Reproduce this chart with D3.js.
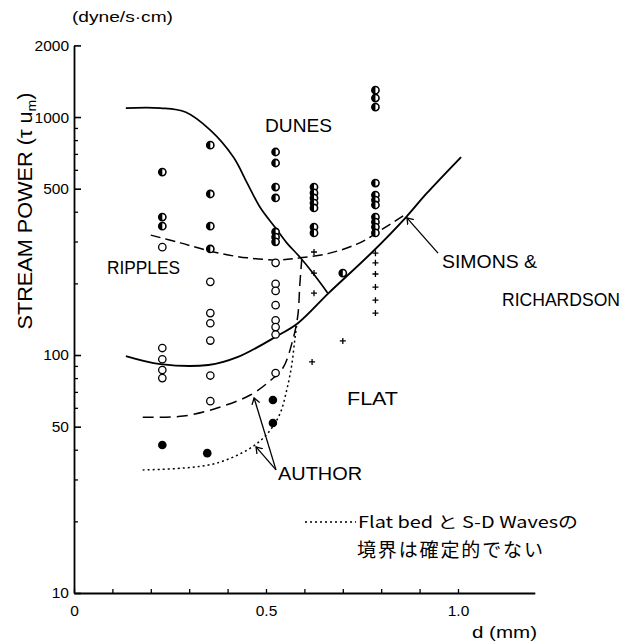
<!DOCTYPE html>
<html>
<head>
<meta charset="utf-8">
<script src="https://cdn.jsdelivr.net/npm/d3@7"></script>
<style>
  body { margin: 0; background: #fff; }
  svg { display: block; background: #fff; }
  text { font-family: "Liberation Sans", Arial, sans-serif; fill: #000; }
  .cjk { font-family: "Noto Sans CJK JP", sans-serif; }
</style>
</head>
<body>
<svg id="chart" width="622" height="644"></svg>
<script>
// Observed bed forms: [mean grain size d (mm), stream power τ·u_m (dyne/s·cm)]
const duneBeds = [
  [0.23, 587], [0.23, 380], [0.23, 348],
  [0.355, 762], [0.355, 475], [0.355, 348], [0.355, 279],
  [0.525, 713], [0.525, 641], [0.525, 508], [0.525, 457], [0.525, 329], [0.525, 313], [0.525, 299],
  [0.625, 508], [0.625, 480], [0.625, 457], [0.625, 435], [0.625, 415], [0.625, 345], [0.625, 326],
  [0.70, 221],
  [0.785, 1297], [0.785, 1202], [0.785, 1101], [0.785, 528], [0.785, 470], [0.785, 448],
  [0.785, 427], [0.785, 380], [0.785, 362], [0.785, 345], [0.785, 326]
];
const rippleBeds = [
  [0.23, 284], [0.23, 107], [0.23, 96], [0.23, 86.5], [0.23, 80],
  [0.355, 203], [0.355, 150], [0.355, 136], [0.355, 115], [0.355, 82], [0.355, 64],
  [0.525, 244], [0.525, 199], [0.525, 186], [0.525, 162], [0.525, 140], [0.525, 131], [0.525, 122], [0.525, 84]
];
const flatBeds = [
  [0.625, 271], [0.625, 221], [0.625, 182], [0.62, 93.5],
  [0.70, 114.6],
  [0.785, 268], [0.785, 244], [0.785, 219], [0.785, 193], [0.785, 170], [0.785, 150]
];
const sdWaves = [
  [0.23, 41.9], [0.347, 38.7], [0.518, 64.7], [0.518, 51.8]
];

// Regime boundaries
const srDuneBoundary = [
  [0.135, 1091], [0.225, 1091], [0.29, 1050], [0.355, 881], [0.415, 679], [0.451, 528],
  [0.484, 419], [0.523, 345], [0.554, 296], [0.588, 258], [0.622, 221], [0.661, 182]
];
const srRippleBoundary = [
  [0.135, 99], [0.225, 91.6], [0.35, 90.8], [0.427, 98.2], [0.528, 120], [0.583, 136],
  [0.663, 182], [0.777, 271], [0.865, 380], [0.917, 475], [1.008, 679]
];
const authorRippleDune = [
  [0.2, 319], [0.277, 296], [0.363, 271], [0.451, 256], [0.536, 251], [0.588, 256],
  [0.666, 268], [0.744, 296], [0.803, 338], [0.86, 387]
];
const authorRippleFlat = [
  [0.179, 54.8], [0.285, 55.4], [0.373, 59.9], [0.459, 67.9], [0.51, 77.8], [0.544, 88.2],
  [0.57, 116], [0.583, 147], [0.588, 197], [0.593, 251]
];
const authorFlatSD = [
  [0.179, 32.9], [0.285, 33.5], [0.373, 35.2], [0.459, 40.6], [0.505, 47], [0.536, 56.5],
  [0.554, 71.3], [0.567, 90.8], [0.575, 116], [0.58, 134]
];

// Leader lines for the curve labels: [from, to]
const srLeader = [[0.948, 268], [0.867, 377]];
const authorLeaders = [
  [[0.526, 32.9], [0.469, 66]],
  [[0.526, 32.9], [0.474, 41.1]]
];

// Axis ticks
const yMajorTicks = [10, 50, 100, 500, 1000, 2000];
const yMinorTicks = [20, 30, 40, 60, 70, 80, 90, 200, 300, 400, 600, 700, 800, 900];
const xTicks = [0, 0.1, 0.2, 0.3, 0.4, 0.5, 0.6, 0.7, 0.8, 0.9, 1.0];
const xTickLabels = new Map([[0, "0"], [0.5, "0.5"], [1.0, "1.0"]]);

const svg = d3.select("#chart");

const x = d3.scaleLinear().domain([0, 1.2]).range([74, 534.8]);
const y = d3.scaleLog().domain([10, 2000]).range([593, 45.4]);

// ---- axes ----
const yAxis = svg.append("g").attr("transform", `translate(${x(0)},0)`)
  .call(d3.axisLeft(y).tickValues(yMajorTicks).tickSize(-7).tickSizeOuter(0)
    .tickPadding(5).tickFormat(d3.format("d")));
yAxis.select(".domain").attr("stroke", "#000").attr("stroke-width", 1.8);
yAxis.selectAll(".tick line").attr("stroke", "#000").attr("stroke-width", 1.6);
yAxis.selectAll(".tick text").attr("font-size", 15.5).attr("font-family", "Liberation Sans, Arial, sans-serif");

const yMinor = svg.append("g").attr("transform", `translate(${x(0)},0)`)
  .call(d3.axisLeft(y).tickValues(yMinorTicks).tickSize(-4).tickFormat(""));
yMinor.select(".domain").remove();
yMinor.selectAll(".tick line").attr("stroke", "#000").attr("stroke-width", 1.3);

const xAxis = svg.append("g").attr("transform", `translate(0,${y(10)})`)
  .call(d3.axisBottom(x).tickValues(xTicks).tickSize(-4).tickSizeOuter(0)
    .tickPadding(12).tickFormat(d => xTickLabels.get(d) || ""));
xAxis.select(".domain").attr("stroke", "#000").attr("stroke-width", 1.8);
xAxis.selectAll(".tick line").attr("stroke", "#000").attr("stroke-width", 1.3);
xAxis.selectAll(".tick text").attr("font-size", 15.5).attr("font-family", "Liberation Sans, Arial, sans-serif");

// axis titles
svg.append("text").attr("x", 72).attr("y", 22).attr("font-size", 15)
  .attr("textLength", 101).attr("lengthAdjust", "spacingAndGlyphs").text("(dyne/s·cm)");

const yTitle = svg.append("text")
  .attr("transform", "translate(32,211) rotate(-90)")
  .attr("text-anchor", "middle").attr("font-size", 20)
  .attr("textLength", 237).attr("lengthAdjust", "spacingAndGlyphs");
yTitle.append("tspan").text("STREAM POWER (τ u");
yTitle.append("tspan").attr("font-size", 13).attr("dy", 4).text("m");
yTitle.append("tspan").attr("dy", -4).text(")");

svg.append("text").attr("x", 472).attr("y", 638).attr("font-size", 16)
  .attr("textLength", 65).attr("lengthAdjust", "spacingAndGlyphs").text("d (mm)");

// ---- boundary curves ----
const line = d3.line().x(d => x(d[0])).y(d => y(d[1])).curve(d3.curveCatmullRom.alpha(0.5));
const curves = svg.append("g").attr("fill", "none").attr("stroke", "#000");
curves.append("path").attr("d", line(srDuneBoundary)).attr("stroke-width", 1.7);
curves.append("path").attr("d", line(srRippleBoundary)).attr("stroke-width", 1.9);
curves.append("path").attr("d", line(authorRippleDune)).attr("stroke-width", 1.5).attr("stroke-dasharray", "10,5");
curves.append("path").attr("d", line(authorRippleFlat)).attr("stroke-width", 1.5).attr("stroke-dasharray", "11,6");
curves.append("path").attr("d", line(authorFlatSD)).attr("stroke-width", 1.5).attr("stroke-dasharray", "2,3");

// ---- leader lines ----
const defs = svg.append("defs");
defs.append("marker").attr("id", "head").attr("viewBox", "-6 -5 8 10")
  .attr("refX", 0).attr("refY", 0).attr("markerWidth", 8).attr("markerHeight", 10)
  .attr("markerUnits", "userSpaceOnUse").attr("orient", "auto")
  .append("path").attr("d", "M-6,-4L0,0L-6,4").attr("fill", "none").attr("stroke", "#000").attr("stroke-width", 1.3);

const leaders = svg.append("g").attr("stroke", "#000").attr("stroke-width", 1.3);
[srLeader, ...authorLeaders].forEach(seg => {
  leaders.append("line")
    .attr("x1", x(seg[0][0])).attr("y1", y(seg[0][1]))
    .attr("x2", x(seg[1][0])).attr("y2", y(seg[1][1]))
    .attr("marker-end", "url(#head)");
});

// ---- observations ----
const pts = svg.append("g");
pts.selectAll(".ripple").data(rippleBeds).join("circle").attr("class", "ripple")
  .attr("cx", d => x(d[0])).attr("cy", d => y(d[1])).attr("r", 3.7)
  .attr("fill", "#fff").attr("stroke", "#000").attr("stroke-width", 1.3);

const dune = pts.selectAll(".dune").data(duneBeds).join("g").attr("class", "dune")
  .attr("transform", d => `translate(${x(d[0])},${y(d[1])})`);
dune.append("circle").attr("r", 3.6).attr("fill", "#fff").attr("stroke", "#000").attr("stroke-width", 1.6);
dune.append("path").attr("d", "M0,-3.6A3.6,3.6 0 0 0 0,3.6Z").attr("fill", "#000");

pts.selectAll(".flat").data(flatBeds).join("path").attr("class", "flat")
  .attr("transform", d => `translate(${x(d[0])},${y(d[1])})`)
  .attr("d", "M-3,0H3M0,-3V3").attr("stroke", "#000").attr("stroke-width", 1.3);

pts.selectAll(".sd").data(sdWaves).join("circle").attr("class", "sd")
  .attr("cx", d => x(d[0])).attr("cy", d => y(d[1])).attr("r", 4.3).attr("fill", "#000");

// ---- region and curve labels ----
const labels = [
  { t: "DUNES", x: 265, y: 132, w: 67 },
  { t: "RIPPLES", x: 107, y: 274, w: 73 },
  { t: "FLAT", x: 347, y: 405, w: 51 },
  { t: "AUTHOR", x: 278, y: 480, w: 84 },
  { t: "SIMONS &", x: 442, y: 268, w: 95 },
  { t: "RICHARDSON", x: 502, y: 306, w: 118 }
];
svg.append("g").selectAll("text").data(labels).join("text")
  .attr("x", d => d.x).attr("y", d => d.y).attr("font-size", 18)
  .attr("textLength", d => d.w).attr("lengthAdjust", "spacingAndGlyphs").text(d => d.t);

// note on the dotted boundary
svg.append("line").attr("x1", 305).attr("x2", 356).attr("y1", 522).attr("y2", 522)
  .attr("stroke", "#000").attr("stroke-width", 1.4).attr("stroke-dasharray", "2,3");
svg.append("text").attr("class", "cjk").attr("x", 358).attr("y", 528).attr("font-size", 16)
  .attr("textLength", 220).attr("lengthAdjust", "spacingAndGlyphs").text("Flat bed と S-D Wavesの");
svg.append("text").attr("class", "cjk").attr("x", 357).attr("y", 557).attr("font-size", 19)
  .attr("textLength", 186).attr("lengthAdjust", "spacing").text("境界は確定的でない");
</script>
</body>
</html>
